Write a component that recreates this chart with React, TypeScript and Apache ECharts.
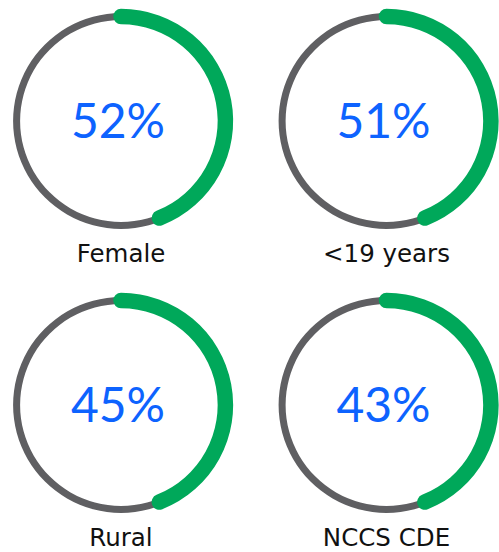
import React, { useEffect, useRef } from "react";
import * as echarts from "echarts";

const labels = ["Female", "<19 years", "Rural", "NCCS CDE"];
const percentValues = [52, 51, 45, 43];
const arcShares = [44, 44, 44, 44];
const centersX = [121, 386.5, 121, 386.5];
const centersY = [121, 121, 405, 405];

const GRAY = "#5f5f62";
const GREEN = "#00a85a";
const BLUE = "#0d63ff";
const RING_R = 104.4;
const GRAY_W = 7;
const GREEN_W = 15.5;

export default function App() {
  const ref = useRef<HTMLDivElement>(null);
  useEffect(() => {
    if (!ref.current) return;
    const chart = echarts.init(ref.current, undefined, { renderer: "svg" });
    const series: any[] = [];
    labels.forEach((label, i) => {
      const center = [centersX[i], centersY[i]];
      series.push({
        type: "gauge",
        center,
        radius: RING_R + GRAY_W / 2,
        startAngle: 90,
        endAngle: -270,
        min: 0,
        max: 100,
        axisLine: { lineStyle: { width: GRAY_W, color: [[1, GRAY]] } },
        pointer: { show: false },
        axisTick: { show: false },
        splitLine: { show: false },
        axisLabel: { show: false },
        title: { show: false },
        detail: { show: false },
        data: [{ value: 0 }],
      });
      series.push({
        type: "gauge",
        center,
        radius: RING_R + GREEN_W / 2,
        startAngle: 90,
        endAngle: -270,
        min: 0,
        max: 100,
        axisLine: { show: false, lineStyle: { width: GREEN_W } },
        progress: {
          show: true,
          width: GREEN_W,
          roundCap: true,
          itemStyle: { color: GREEN },
        },
        pointer: { show: false },
        axisTick: { show: false },
        splitLine: { show: false },
        axisLabel: { show: false },
        title: {
          show: true,
          offsetCenter: [0, 132.5],
          fontSize: 24.5,
          lineHeight: 20,
          fontFamily: "DejaVu Sans",
          color: "#111111",
        },
        detail: {
          show: true,
          offsetCenter: [-3, -2],
          formatter: () => `${percentValues[i]}%`,
          fontSize: 48,
          fontFamily: "Lato",
          fontWeight: "normal",
          color: BLUE,
        },
        data: [{ value: arcShares[i], name: label }],
      });
    });
    chart.setOption({ animation: false, series });
    return () => chart.dispose();
  }, []);
  return (
    <div
      ref={ref}
      style={{ position: "fixed", left: 0, top: 0, width: 499, height: 552, background: "#fff" }}
    />
  );
}
